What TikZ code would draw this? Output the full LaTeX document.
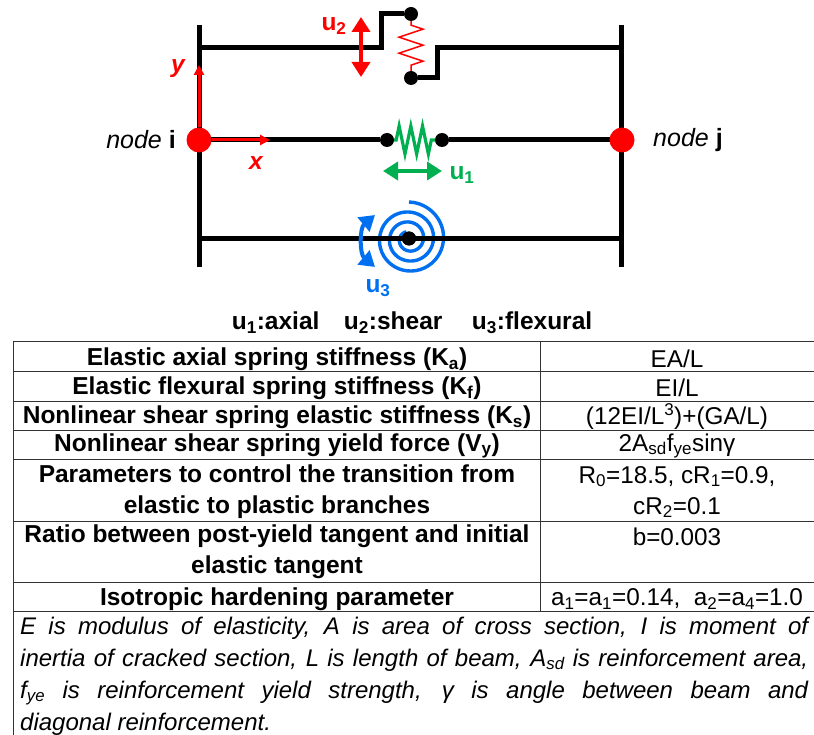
\documentclass[tikz,border=0pt]{standalone}
\usepackage{fontspec}
\setmainfont{Liberation Sans}
\usetikzlibrary{arrows.meta,decorations.pathmorphing}
\definecolor{ured}{HTML}{FF0000}
\definecolor{ugreen}{HTML}{00B050}
\definecolor{ublue}{HTML}{0070F0}
\definecolor{rule}{HTML}{333333}
\tikzset{
  beam/.style={draw=black, line width=5pt},
  dot/.style={circle, fill=black, inner sep=0pt, minimum size=14pt},
  joint/.style={circle, fill=ured, inner sep=0pt, minimum size=25pt},
  dbl/.style={{Triangle[length=15pt,width=18pt]}-{Triangle[length=15pt,width=18pt]}, line width=4pt},
  axis/.style={-{Triangle[length=10pt,width=10pt]}, draw=ured, line width=3pt},
  lbl/.style={font=\fontsize{24.5}{28}\selectfont\bfseries, inner sep=0pt},
  endlbl/.style={font=\fontsize{25}{28}\selectfont, inner sep=0pt},
  head/.style={font=\fontsize{24.5}{31}\selectfont\bfseries, align=center, inner sep=0pt},
  val/.style={font=\fontsize{24.3}{31}\selectfont, align=center, inner sep=0pt},
  rulex/.style={draw=rule, line width=1pt},
}
\begin{document}
\begin{tikzpicture}[x=1pt,y=-1pt]
  \useasboundingbox (0,0) rectangle (814,735);
  % spiral goes under the beam
  \draw[ublue, line width=3.4pt] plot[smooth, domain=0:1060, samples=140]
    ({409+(37-10*\x/360)*cos(90-\x)},{239-(37-10*\x/360)*sin(90-\x)});
  % frame
  \coordinate (i top) at (199,25);
  \coordinate (i bot) at (199,267);
  \coordinate (j top) at (621,25);
  \coordinate (j bot) at (621,267);
  \draw[beam] (i top) -- (i bot);
  \draw[beam] (j top) -- (j bot);
  \node[dot] (s1) at (411,14) {};
  \node[dot] (s2) at (411,78) {};
  \node[dot] (a1) at (387,140) {};
  \node[dot] (a2) at (442,140) {};
  \node[dot] (f0) at (409,238.5) {};
  % beams
  \coordinate (t1) at (199,47.5);
  \coordinate (t2) at (621,47.5);
  \coordinate (b1) at (199,238.5);
  \coordinate (b2) at (621,238.5);
  \coordinate (m1) at (199,140);
  \coordinate (m2) at (622,140);
  \draw[beam] (t1) -- (381,47.5) -- (381,14) -- (s1);
  \draw[beam] (s2) -- (437,78) -- (437,47.5) -- (t2);
  \draw[beam] (m1) -- (a1);
  \draw[beam] (a2) -- (m2);
  \draw[beam] (b1) -- (b2);
  \node[dot] at (f0) {};
  \node[joint] (ni) at (m1) {};
  \node[joint] (nj) at (m2) {};
  % springs
  \draw[ured, line width=1.5pt, decorate, decoration={zigzag, segment length=16pt, amplitude=12pt,
    pre length=4pt, post length=1pt}] (s1) -- (s2);
  \draw[ugreen, line width=3.2pt, decorate, decoration={zigzag, segment length=11.7pt, amplitude=14pt,
    pre length=2pt, post length=3pt}] (a1) -- (a2);
  % axes
  \coordinate (yend) at (199,65);
  \coordinate (xend) at (270,140);
  \draw[axis] (ni) -- (yend);
  \draw[axis] (ni) -- (xend);
  \node[lbl, font=\fontsize{24.5}{28}\selectfont\bfseries\itshape, text=ured] (ylbl) at (178,69) {y};
  \node[lbl, font=\fontsize{24.5}{28}\selectfont\bfseries\itshape, text=ured] (xlbl) at (256,163) {x};
  \node[endlbl, anchor=east] (il) at (176,140) {\textit{node} \textbf{i}};
  \node[endlbl, anchor=west] (jl) at (653,140) {\textit{node} \textbf{j}};
  % displacements
  \coordinate (u2a) at (361,17);
  \coordinate (u2b) at (361,77);
  \coordinate (u1a) at (383,171);
  \coordinate (u1b) at (442,171);
  \coordinate (u3a) at (375,215);
  \coordinate (u3b) at (375,267);
  \draw[dbl, ured] (u2a) -- (u2b);
  \draw[dbl, ugreen] (u1a) -- (u1b);
  \draw[dbl, ublue] (u3a) to[bend right=50] (u3b);
  \node[lbl, text=ured] (u2) at (334,26) {u\textsubscript{2}};
  \node[lbl, text=ugreen] (u1) at (462,175) {u\textsubscript{1}};
  \node[lbl, text=ublue] (u3) at (378,288) {u\textsubscript{3}};
  \node[lbl] (key) at (412,323) {u\textsubscript{1}:axial\hspace{1em}u\textsubscript{2}:shear\hspace{1.2em}u\textsubscript{3}:flexural};
  % table
  \foreach \y in {342,371,401,430,459,521,582,611}{
    \draw[rulex] (13,\y) -- (814,\y);}
  \draw[rulex] (13,342) -- (13,735);
  \draw[rulex] (540,342) -- (540,611);
  \node[head] (h1) at (277,359) {Elastic axial spring stiffness (K\textsubscript{a})};
  \node[head] (h2) at (277,388) {Elastic flexural spring stiffness (K\textsubscript{f})};
  \node[head] (h3) at (277,417) {Nonlinear shear spring elastic stiffness (K\textsubscript{s})};
  \node[head] (h4) at (277,446) {Nonlinear shear spring yield force (V\textsubscript{y})};
  \node[head] (h5) at (277,492) {Parameters to control the transition from\\ elastic to plastic branches};
  \node[head] (h6) at (277,552) {Ratio between post-yield tangent and initial\\ elastic tangent};
  \node[head] (h7) at (277,599) {Isotropic hardening parameter};
  \node[val] (v1) at (677,359) {EA/L};
  \node[val] (v2) at (677,388) {EI/L};
  \node[val] (v3) at (677,417) {(12EI/L\textsuperscript{3})+(GA/L)};
  \node[val] (v4) at (677,446) {2A\textsubscript{sd}f\textsubscript{ye}sinγ};
  \node[val] (v5) at (677,492) {R\textsubscript{0}=18.5, cR\textsubscript{1}=0.9,\\ cR\textsubscript{2}=0.1};
  \node[val] (v6) at (677,537) {b=0.003};
  \node[val] (v7) at (677,599) {a\textsubscript{1}=a\textsubscript{1}=0.14,\ \ a\textsubscript{2}=a\textsubscript{4}=1.0};
  \node[anchor=north west, inner sep=0pt, text width=788pt, align=justify,
    font=\fontsize{24}{32}\selectfont\itshape] (note) at (20,616.5)
    {E is modulus of elasticity, A is area of cross section, I is moment of\linebreak
     inertia of cracked section, L is length of beam, A\textsubscript{sd} is reinforcement area,\linebreak
     f\textsubscript{ye} is reinforcement yield strength, γ is angle between beam and\linebreak
     diagonal reinforcement.};
\end{tikzpicture}
\end{document}
